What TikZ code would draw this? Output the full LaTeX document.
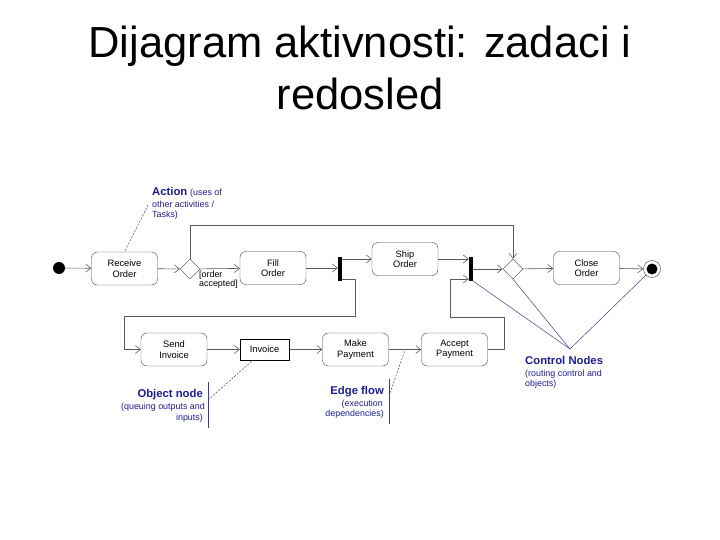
\documentclass[tikz,border=0pt]{standalone}
\usepackage{fontspec}
\setmainfont{Liberation Sans}
\usetikzlibrary{arrows.meta,shapes.geometric}
\definecolor{ann}{RGB}{28,28,150}
\definecolor{annl}{RGB}{60,60,150}
\definecolor{edge}{RGB}{90,90,90}
\begin{document}
\begin{tikzpicture}[x=1pt,y=-1pt,
  act/.style={draw=black!75, rounded corners=6pt, minimum width=66pt, minimum height=33pt, align=center, inner sep=1pt, font=\fontsize{9.3}{10.5}\selectfont},
  obj/.style={draw=black, minimum width=49pt, minimum height=21pt, inner sep=1pt, font=\fontsize{9.3}{10}\selectfont},
  dec/.style={diamond, draw=black!75, minimum size=20pt, inner sep=0pt},
  barnode/.style={fill=black, minimum width=4pt, minimum height=24pt, inner sep=0pt},
  flow/.style={draw=edge, line width=0.6pt, -{Straight Barb[length=5pt,width=8pt]}},
  notebold/.style={color=ann, font=\fontsize{11.3}{12}\selectfont\bfseries, inner sep=0pt, anchor=base west},
  notetxt/.style={color=ann, font=\fontsize{8.9}{10}\selectfont, inner sep=0pt, anchor=base west},
  annline/.style={draw=annl, line width=0.5pt},
  anndash/.style={draw=annl, line width=0.5pt, dash pattern=on 2pt off 1.5pt},
  titlefont/.style={font=\fontsize{43.5}{50}\selectfont, inner sep=0pt, anchor=base}
]
\useasboundingbox (0,0) rectangle (720,540);

% title
\node[titlefont] (t1) at (360,58) {Dijagram aktivnosti: zadaci i};
\node[titlefont] (t2) at (360,110) {redosled};

% nodes
\node[circle, fill=black, minimum size=12pt, inner sep=0pt] (init) at (59,268) {};
\node[act] (recv) at (124.5,268.5) {Receive\\Order};
\node[dec] (d1) at (190,269) {};
\node[act] (fill) at (273,268) {Fill\\Order};
\node[barnode] (fork) at (340,269) {};
\node[act] (ship) at (405,259) {Ship\\Order};
\node[barnode] (join) at (471,269) {};
\node[dec] (d2) at (513,269) {};
\node[act] (close) at (586.5,268) {Close\\Order};
\node[circle, draw=black!75, minimum size=17pt, inner sep=0pt] (final) at (652,269) {};
\node[circle, fill=black, minimum size=11pt, inner sep=0pt] (finalin) at (652,269) {};

\node[act] (send) at (174,349.5) {Send\\Invoice};
\node[obj] (inv) at (264.5,349.5) {Invoice};
\node[act] (make) at (355.5,349.5) {Make\\Payment};
\node[act] (acc) at (454.5,349.5) {Accept\\Payment};

% guard
\node[inner sep=0pt, anchor=base west, align=left, font=\fontsize{8.9}{9}\selectfont] (guard) at (199,286) {[order\\accepted]};

% helper coordinates
\coordinate (top1) at (190,225);
\coordinate (top2) at (513,225);
\coordinate (fk1) at (355,279);
\coordinate (fk2) at (355,316);
\coordinate (fk3) at (124,316);
\coordinate (fk4) at (124,349.5);
\coordinate (ap1) at (504,349.5);
\coordinate (ap2) at (504,317);
\coordinate (ap3) at (450,317);
\coordinate (ap4) at (450,279);

% flows
\draw[flow] (init) -- (recv);
\draw[flow] (recv) -- (d1);
\draw[flow] (d1) -- (fill);
\draw[flow] (fill.east) -- (fork.west |- fill.east);
\draw[flow] (fork.east |- ship.west) -- (ship.west);
\draw[flow] (ship.east) -- (join.west |- ship.east);
\draw[flow] (join.east |- d2.west) -- (d2.west);
\draw[flow] (d2) -- (close);
\draw[flow] (close) -- (final);
\draw[flow] (d1.north) -- (top1) -- (top2) -- (d2.north);
\draw[flow] (fork.east |- fk1) -- (fk1) -- (fk2) -- (fk3) -- (fk4) -- (send.west);
\draw[flow] (send) -- (inv);
\draw[flow] (inv) -- (make);
\draw[flow] (make) -- (acc);
\draw[flow] (acc.east) -- (ap1) -- (ap2) -- (ap3) -- (ap4) -- (join.west |- ap4);

% Action annotation
\node[notebold] (actlbl) at (152,196) {Action};
\node[notetxt, anchor=base west] (actt1) at (actlbl.base east) {\ (uses of};
\node[notetxt] (actt2) at (152,207.5) {other activities /};
\node[notetxt] (actt3) at (152,218) {Tasks)};
\coordinate (actp) at (148,205);
\draw[anndash] (actp) -- (recv.north);

% Object node annotation
\node[notebold, anchor=base east] (objlbl) at (203,397) {Object node};
\node[notetxt, anchor=base east] (objt1) at (205,409) {(queuing outputs and};
\node[notetxt, anchor=base east] (objt2) at (203,420) {inputs)};
\coordinate (objv1) at (208,382);
\coordinate (objv2) at (208,428);
\coordinate (objp) at (208,400);
\coordinate (objq) at (253,360);
\draw[annline] (objv1) -- (objv2);
\draw[anndash] (objp) -- (objq);

% Edge flow annotation
\node[notebold, anchor=base east] (edglbl) at (384,394) {Edge flow};
\node[notetxt, anchor=base east] (edgt1) at (383,406) {(execution};
\node[notetxt, anchor=base east] (edgt2) at (384,416.5) {dependencies)};
\coordinate (edgv1) at (389,379);
\coordinate (edgv2) at (389,424);
\coordinate (edgp) at (390,393);
\coordinate (edgq) at (405,350);
\draw[annline] (edgv1) -- (edgv2);
\draw[anndash] (edgp) -- (edgq);

% Control nodes annotation
\node[notebold] (ctllbl) at (525,364) {Control Nodes};
\node[notetxt] (ctlt1) at (525,376) {(routing control and};
\node[notetxt] (ctlt2) at (525,386) {objects)};
\coordinate (ctlp) at (570,349);
\draw[annline] (ctlp) -- (join.south east);
\draw[annline] (ctlp) -- (d2.south);
\draw[annline] (ctlp) -- (final.south west);
\end{tikzpicture}
\end{document}
